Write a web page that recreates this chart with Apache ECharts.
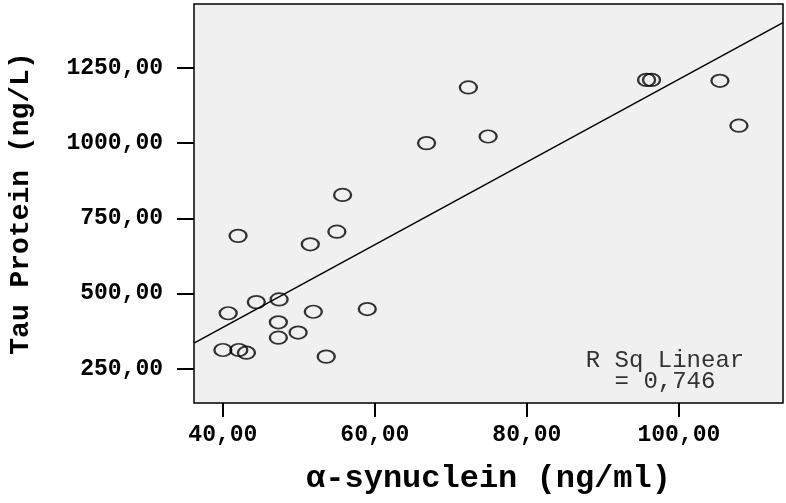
<!DOCTYPE html>
<html>
<head>
<meta charset="utf-8">
<script src="https://cdn.jsdelivr.net/npm/echarts@6/dist/echarts.min.js"></script>
<style>
  html, body { margin: 0; padding: 0; background: #fff; }
  #chart { width: 786px; height: 503px; }
</style>
</head>
<body>
<div id="chart"></div>
<script>
  // values
  var synuclein = [42.0, 55.0, 51.5, 55.75, 40.7, 44.4, 47.4, 47.3, 51.9, 59.0, 47.3, 49.9,
    40.0, 42.1, 43.1, 53.6, 66.8, 72.3, 74.9, 95.75, 96.4, 105.4, 107.9];
  var tau = [692, 706, 664, 828, 435, 472, 481, 405, 440, 449, 354, 371,
    313, 313, 304, 291, 1000, 1185, 1022, 1210, 1210, 1207, 1058];
  var xTicks = [40, 60, 80, 100];
  var yTicks = [250, 500, 750, 1000, 1250];
  var xRange = [36.2, 113.7];
  var yRange = [137, 1462];
  // fit line
  var fitIntercept = -161;
  var fitSlope = 13.73;
  var rSq = "0,746";

  var points = synuclein.map(function(x, i) { return [x, tau[i]]; });
  var fitLine = xRange.map(function(x) { return [x, fitIntercept + fitSlope * x]; });

  function fmt(v) {
    return v.toFixed(2).replace(".", ",");
  }

  var monoBold = {
    fontFamily: "Liberation Mono",
    fontWeight: "bold",
    color: "#000"
  };

  var chart = echarts.init(document.getElementById("chart"));
  var option = {
    animation: false,
    grid: {
      left: 194,
      top: 4,
      right: 3,
      bottom: 100,
      outerBoundsMode: "none",
      containLabel: false,
      show: true,
      backgroundColor: "#f0f0f0",
      borderColor: "#000",
      borderWidth: 1.5
    },
    xAxis: {
      type: "value",
      min: xRange[0],
      max: xRange[1],
      name: "α-synuclein (ng/ml)",
      nameLocation: "middle",
      nameGap: 60,
      nameTextStyle: Object.assign({ fontSize: 32 }, monoBold),
      axisLine: { show: false },
      splitLine: { show: false },
      axisTick: {
        customValues: xTicks,
        length: 14,
        lineStyle: { color: "#000", width: 2 }
      },
      axisLabel: Object.assign({
        customValues: xTicks,
        fontSize: 23,
        margin: 21,
        formatter: fmt
      }, monoBold)
    },
    yAxis: {
      type: "value",
      min: yRange[0],
      max: yRange[1],
      name: "Tau Protein (ng/L)",
      nameLocation: "middle",
      nameGap: 159,
      nameTextStyle: Object.assign({ fontSize: 28 }, monoBold),
      axisLine: { show: false },
      splitLine: { show: false },
      axisTick: {
        customValues: yTicks,
        length: 17,
        lineStyle: { color: "#000", width: 2 }
      },
      axisLabel: Object.assign({
        customValues: yTicks,
        fontSize: 23,
        margin: 31,
        formatter: fmt
      }, monoBold)
    },
    graphic: [{
      type: "text",
      x: 665,
      y: 350,
      style: {
        text: "R Sq Linear\n= " + rSq,
        font: "24px 'Liberation Mono'",
        fill: "#333",
        lineHeight: 21,
        align: "center",
        verticalAlign: "top"
      }
    }],
    series: [{
      type: "line",
      data: fitLine,
      symbol: "none",
      silent: true,
      lineStyle: { color: "#000", width: 1.5 },
      z: 2
    }, {
      type: "scatter",
      data: points,
      symbol: "circle",
      symbolSize: [17, 12.5],
      itemStyle: {
        color: "transparent",
        borderColor: "#000",
        borderWidth: 2
      },
      z: 3
    }]
  };
  chart.setOption(option);
</script>
</body>
</html>
